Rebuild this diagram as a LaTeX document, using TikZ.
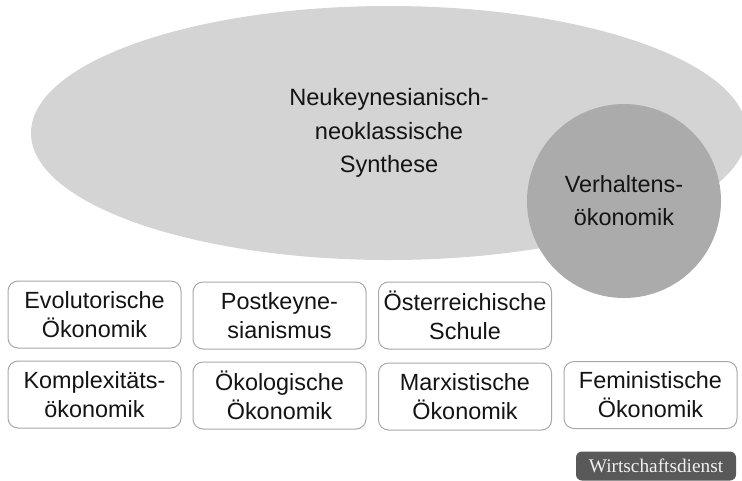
\documentclass[tikz,border=0pt]{standalone}
\usepackage{fontspec}
\setmainfont{Liberation Sans}
\newfontfamily\badgefont{Liberation Serif}
\usetikzlibrary{shapes.geometric}
\definecolor{ellgray}{HTML}{D4D4D4}
\definecolor{circgray}{HTML}{ABABAB}
\definecolor{boxline}{HTML}{A8A8A8}
\definecolor{txt}{HTML}{141414}
\definecolor{badgegray}{HTML}{595959}
\definecolor{badgetext}{HTML}{F0F0F0}
\begin{document}
\begin{tikzpicture}[x=1pt,y=-1pt,
  schoolbox/.style={draw=boxline, line width=1pt, rounded corners=10pt, fill=white,
    minimum width=173pt, minimum height=67pt, inner sep=0pt, align=center,
    text=txt, font=\fontsize{23.4}{29}\selectfont},
  bigellipse/.style={ellipse, fill=ellgray, minimum width=716pt, minimum height=254pt,
    inner sep=0pt, align=center, text=txt, font=\fontsize{23.6}{33.3}\selectfont},
  bigcircle/.style={circle, fill=circgray, minimum size=194pt, inner sep=0pt,
    align=center, text=txt, font=\fontsize{23.4}{33}\selectfont},
  badge/.style={fill=badgegray, rounded corners=6pt, minimum width=160pt,
    minimum height=29pt, inner sep=0pt, text=badgetext,
    font=\badgefont\fontsize{19.3}{19}\selectfont}]
\useasboundingbox (0,0) rectangle (742,480);
\clip (0,0) rectangle (742,480);
\node (syn) [bigellipse] at (389,133) {Neukeynesianisch-\\neoklassische\\Synthese};
\node (beh) [bigcircle] at (624,201) {Verhaltens-\\ökonomik};
\node (evo) [schoolbox] at (94.5,314.5) {Evolutorische\\Ökonomik};
\node (post) [schoolbox] at (279.5,315.5) {Postkeyne-\\sianismus};
\node (aut) [schoolbox] at (465,315.5) {Österreichische\\Schule};
\node (kom) [schoolbox] at (94.5,394.5) {Komplexitäts-\\ökonomik};
\node (oek) [schoolbox] at (279.5,395.5) {Ökologische\\Ökonomik};
\node (marx) [schoolbox] at (465,396.5) {Marxistische\\Ökonomik};
\node (fem) [schoolbox] at (650.5,395) {Feministische\\Ökonomik};
\node (wd) [badge] at (656,466) {Wirtschaftsdienst};
\end{tikzpicture}
\end{document}
